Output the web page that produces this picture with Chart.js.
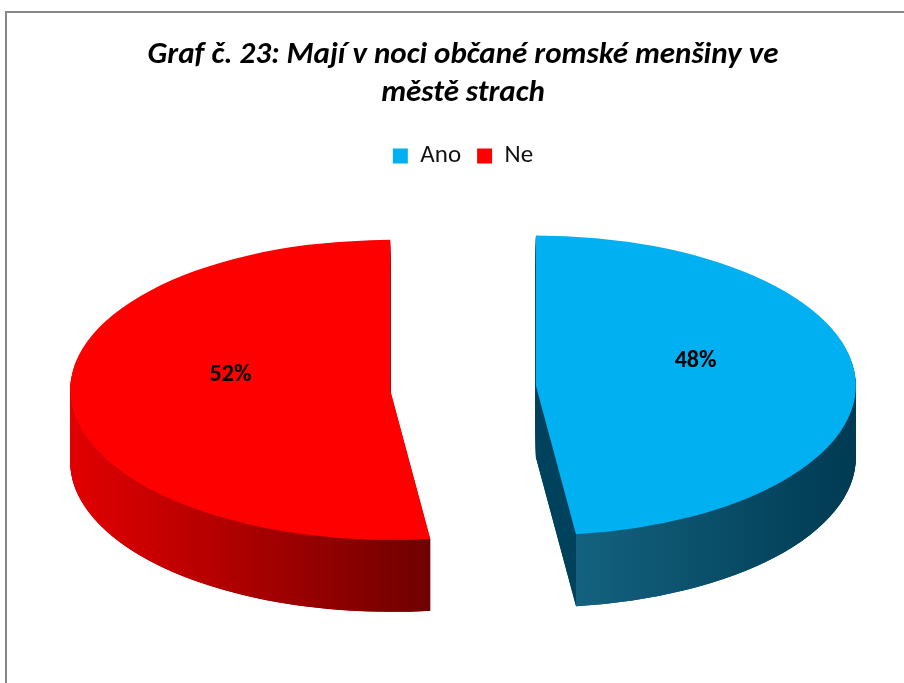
<!DOCTYPE html>
<html>
<head>
<meta charset="utf-8">
<script src="https://cdn.jsdelivr.net/npm/chart.js@4/dist/chart.umd.min.js"></script>
<style>
  html, body { margin: 0; padding: 0; background: #fff; overflow: hidden; }
  #wrap { position: relative; width: 904px; height: 683px; overflow: hidden; }
  #frame { position: absolute; left: 5px; top: 11px; width: 1000px; height: 1000px;
           border-top: 2px solid #878787; border-left: 2px solid #878787; }
  #graf { position: absolute; left: 0; top: 0; }
</style>
</head>
<body>
<div id="wrap">
  <div id="frame"></div>
  <canvas id="graf" width="926" height="683"></canvas>
</div>
<script>
// data
const titleLines = ['Graf č. 23: Mají v noci občané romské menšiny ve', 'městě strach'];
const categories = ['Ano', 'Ne'];
const shares = [48, 52];
const topColors = ['#00b0f0', '#ff0000'];
const wallColors = [['#13627f', '#003a52'], ['#e20000', '#700000']]; // front end, back end
const cutColors = ['#00435e', '#b00000'];

const fontFam = 'Carlito, Calibri, Lato, sans-serif';

// 3D look
const tilt = 150 / 320;   // ellipse squash
const depth = 72;         // side height
const explode = 73;       // slice pull-out
const labelLift = 20;

const pie3d = {
  id: 'pie3d',
  beforeDatasetsDraw(chart) {
    const ctx = chart.ctx;
    const arcs = chart.getDatasetMeta(0).data;
    const total = shares.reduce((a, b) => a + b, 0);

    arcs.forEach((arc, i) => {
      const { x, y, startAngle, endAngle, outerRadius: r } =
        arc.getProps(['x', 'y', 'startAngle', 'endAngle', 'outerRadius'], true);
      const mid = (startAngle + endAngle) / 2;
      const cx = x + Math.cos(mid) * explode;
      const cy = y + Math.sin(mid) * explode * tilt;
      const ry = r * tilt;

      // cut faces (stacked copies of the sector)
      ctx.save();
      ctx.fillStyle = cutColors[i];
      for (let d = depth; d > 0; d--) {
        ctx.beginPath();
        ctx.moveTo(cx, cy + d);
        ctx.ellipse(cx, cy + d, r, ry, 0, startAngle, endAngle);
        ctx.closePath();
        ctx.fill();
      }
      ctx.restore();

      // outer wall, front half only
      const a0 = Math.max(startAngle, 0);
      const a1 = Math.min(endAngle, Math.PI);
      if (a1 > a0) {
        const xFront = cx + Math.cos(a1) * r;
        const xBack = cx + Math.cos(a0) * r;
        const g = ctx.createLinearGradient(xFront, 0, xBack, 0);
        g.addColorStop(0, wallColors[i][0]);
        g.addColorStop(1, wallColors[i][1]);
        ctx.save();
        ctx.fillStyle = g;
        ctx.beginPath();
        ctx.ellipse(cx, cy, r, ry, 0, a0, a1);
        ctx.ellipse(cx, cy + depth, r, ry, 0, a1, a0, true);
        ctx.closePath();
        ctx.fill();
        ctx.restore();
      }

      // top face drawn by the arc element itself
      ctx.save();
      ctx.translate(0, y);
      ctx.scale(1, tilt);
      ctx.translate(0, -y);
      ctx.translate(Math.cos(mid) * explode, Math.sin(mid) * explode);
      arc.draw(ctx);
      ctx.restore();

      // percentage label
      const pct = Math.round(shares[i] / total * 100) + '%';
      ctx.save();
      ctx.fillStyle = '#000';
      ctx.font = 'bold 24px ' + fontFam;
      ctx.textAlign = 'center';
      ctx.textBaseline = 'middle';
      ctx.fillText(pct, cx + Math.cos(mid) * r * 0.5, cy + Math.sin(mid) * ry * 0.5 - labelLift);
      ctx.restore();
    });
    return false;
  }
};

new Chart(document.getElementById('graf'), {
  type: 'pie',
  data: {
    labels: categories,
    datasets: [{
      data: shares,
      backgroundColor: topColors,
      borderWidth: 0,
      radius: 320
    }]
  },
  options: {
    responsive: false,
    animation: false,
    events: [],
    layout: { padding: { top: 37, bottom: 86, left: 0, right: 0 } },
    plugins: {
      title: {
        display: true,
        text: titleLines,
        color: '#000',
        font: { family: fontFam, size: 31, weight: 'bold', style: 'italic' },
        lineHeight: 1.23,
        padding: { top: 0, bottom: 16 }
      },
      legend: {
        position: 'top',
        labels: {
          boxWidth: 15,
          boxHeight: 15,
          color: '#111',
          padding: 16,
          font: { family: fontFam, size: 25 }
        }
      },
      tooltip: { enabled: false }
    }
  },
  plugins: [pie3d]
});
</script>
</body>
</html>
